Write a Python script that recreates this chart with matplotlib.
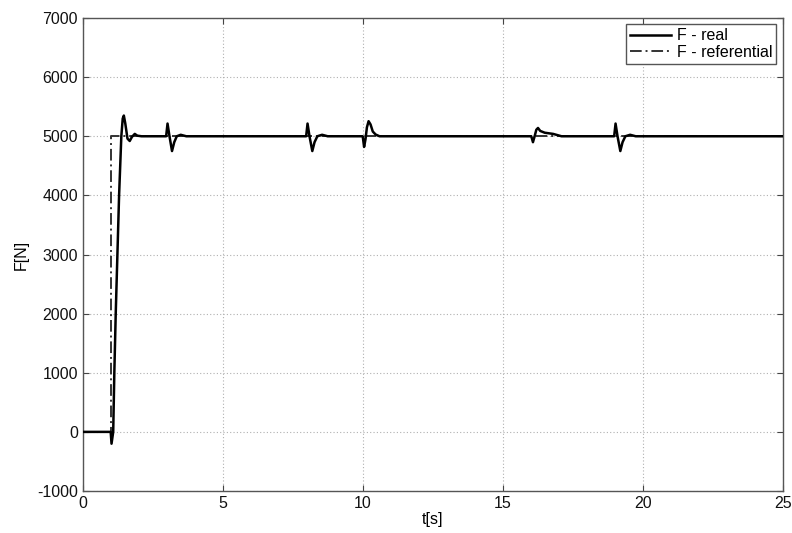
import matplotlib
matplotlib.use("Agg")
import matplotlib.pyplot as plt

plt.rcParams['font.family'] = ['Liberation Sans', 'DejaVu Sans']
plt.rcParams['font.size'] = 11.5
plt.rcParams['axes.unicode_minus'] = False

# reference force: step from 0 to 5000 N at t = 1 s
t_ref = [0, 1.0, 1.0, 25]
f_ref = [0, 0, 5000, 5000]

# measured force with the disturbance transients
t_real = [0, 1.0, 1.03, 1.09, 1.13, 1.18, 1.24, 1.30, 1.38, 1.43, 1.47, 1.52, 1.60, 1.68, 1.76, 1.86, 1.95, 2.1,
          2.98, 3.03, 3.1, 3.19, 3.27, 3.36, 3.5, 3.7,
          7.98, 8.03, 8.1, 8.2, 8.28, 8.38, 8.55, 8.75,
          10.0, 10.05, 10.1, 10.15, 10.21, 10.28, 10.36, 10.46, 10.6,
          16.02, 16.08, 16.14, 16.2, 16.26, 16.34, 16.5, 16.8, 17.1,
          18.98, 19.03, 19.1, 19.2, 19.28, 19.38, 19.55, 19.75, 25]
f_real = [0, 0, -200, 0, 1000, 2000, 3000, 4000, 5000, 5300, 5350, 5220, 4960, 4920, 4990, 5040, 5010, 5000,
          5000, 5215, 5000, 4750, 4900, 5000, 5025, 5000,
          5000, 5215, 5000, 4750, 4900, 5000, 5025, 5000,
          5000, 4820, 4950, 5150, 5255, 5200, 5080, 5030, 5000,
          5000, 4900, 5000, 5110, 5140, 5090, 5060, 5040, 5000,
          5000, 5215, 5000, 4750, 4900, 5000, 5025, 5000, 5000]

fig = plt.figure(figsize=(7.92, 5.33), dpi=100)
fig.subplots_adjust(left=0.1044, right=0.9883, top=0.9662, bottom=0.0788)
ax = fig.add_subplot(111)

ax.plot(t_real, f_real, color='black', linewidth=1.8, label='F - real', zorder=3)
ax.plot(t_ref, f_ref, color='#333333', linewidth=1.4, linestyle=(0, (6, 2, 1, 2)),
        label='F - referential', zorder=2)

ax.set_xlim(0, 25)
ax.set_ylim(-1000, 7000)
ax.set_xticks(range(0, 26, 5))
ax.set_yticks(range(-1000, 7001, 1000))
ax.grid(True, color='#b0b0b0', linestyle=(0, (1, 2)), linewidth=0.8)
ax.tick_params(direction='in', top=True, right=True, length=4, color='#444444', labelcolor='#111111')
for s in ax.spines.values():
    s.set_color('#555555')
    s.set_linewidth(1.0)

ax.set_xlabel('t[s]', labelpad=1)
ax.set_ylabel('F[N]', labelpad=6)

leg = ax.legend(loc='upper right', fancybox=False, framealpha=1, edgecolor='#555555',
                handlelength=2.6, handletextpad=0.35, labelspacing=0.1, borderpad=0.25,
                borderaxespad=0.4, fontsize=11.5)
leg.get_frame().set_linewidth(1.0)

fig.savefig('out.png', dpi=100)
